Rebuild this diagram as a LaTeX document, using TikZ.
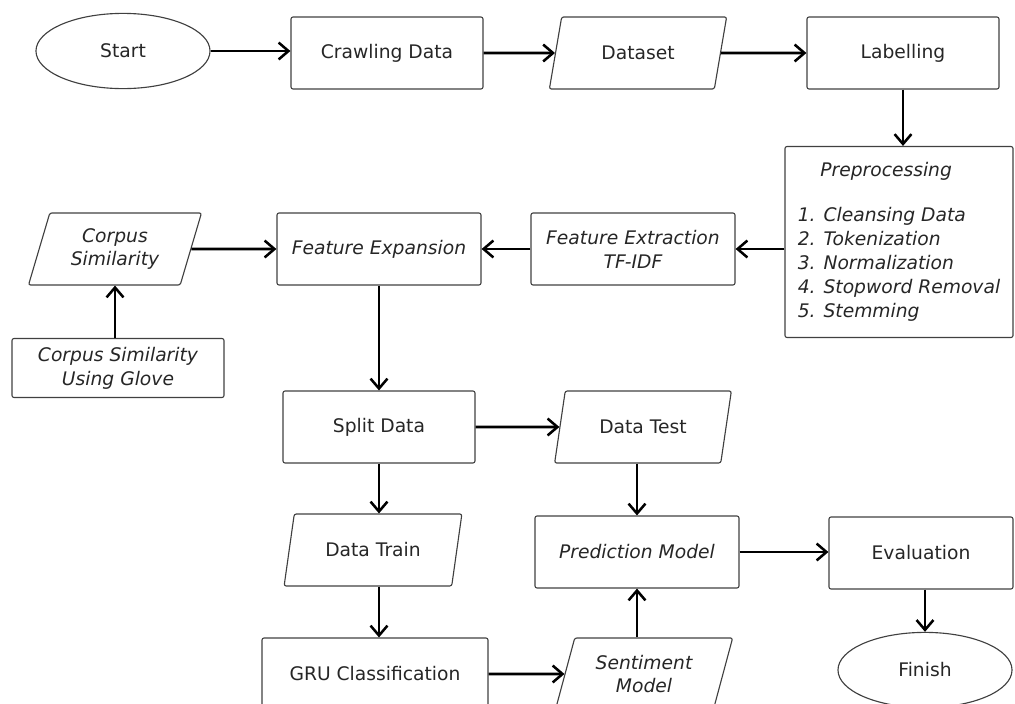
\documentclass[tikz,border=0pt]{standalone}
\usepackage{fontspec}
\setmainfont{DejaVu Sans}
\usetikzlibrary{shapes.geometric,arrows.meta}

\begin{document}
\begin{tikzpicture}[x=0.025cm,y=-0.025cm,
    line join=round,
    font=\fontsize{13.3}{17}\selectfont,
    flow/.style={-{Straight Barb[length=7pt,width=12pt]},line width=1.8pt,black}]
    \tikzstyle{box}=[rectangle,draw=black!75,line width=0.8pt,rounded corners=1.5pt,
        text=black!85,align=center,inner sep=2pt]
    \tikzstyle{process}=[box,minimum width=4.8cm,minimum height=1.8cm]
    \tikzstyle{io}=[box,trapezium,trapezium left angle=72,trapezium right angle=108,
        trapezium stretches,minimum width=4.45cm,minimum height=1.8cm]
    \tikzstyle{terminal}=[box,ellipse,minimum width=4.35cm,minimum height=1.88cm]
    \tikzstyle{note}=[font=\fontsize{13.3}{17}\selectfont\itshape]

    \clip (0,0) rectangle (1015,704);

    % Draw the top row
    \node[terminal] (start) at (123,51) {Start};
    \node[process] (crawl) at (387,53) {Crawling Data};
    \node[io] (dataset) at (638,53) {Dataset};
    \node[process] (label) at (903,53) {Labelling};

    % Draw the preprocessing block
    \node[box,note,align=left,minimum width=5.7cm,minimum height=4.775cm] (prep) at (899,242)
        {\hspace*{16pt}Preprocessing\\[15pt]1. Cleansing Data\\2. Tokenization\\3. Normalization\\4. Stopword Removal\\5. Stemming};

    % Draw the feature nodes
    \node[process,note,minimum width=5.1cm] (featx) at (633,249) {Feature Extraction\\TF-IDF};
    \node[process,note,minimum width=5.1cm] (featexp) at (379,249) {Feature Expansion};
    \node[io,note,minimum width=4.35cm] (corpus) at (115,249) {Corpus\\Similarity};
    \node[process,note,minimum width=5.3cm,minimum height=1.475cm] (glove) at (118,368)
        {Corpus Similarity\\Using Glove};

    % Draw the split and model nodes
    \node[process] (split) at (379,427) {Split Data};
    \node[io] (test) at (643,427) {Data Test};
    \node[io] (train) at (373,550) {Data Train};
    \node[process,minimum width=5.65cm] (gru) at (375,674) {GRU Classification};
    \node[process,note,minimum width=5.1cm] (pred) at (637,552) {Prediction Model};
    \node[io,note] (sent) at (644,674) {Sentiment\\Model};
    \node[process,minimum width=4.6cm] (eval) at (921,553) {Evaluation};
    \node[terminal] (finish) at (925,670) {Finish};

    % Connect the nodes
    \draw[flow] (start.east) -- (start.east -| crawl.west);
    \draw[flow] (crawl.east) -- (dataset.west);
    \draw[flow] (dataset.east) -- (label.west);
    \draw[flow] (label.south) -- (label.south |- prep.north);
    \draw[flow] (featx.east -| prep.west) -- (featx.east);
    \draw[flow] (featx.west) -- (featexp.east);
    \draw[flow] (corpus.east) -- (featexp.west);
    \draw[flow] (corpus.south |- glove.north) -- (corpus.south);
    \draw[flow] (featexp.south) -- (split.north);
    \draw[flow] (split.east) -- (test.west);
    \draw[flow] (split.south) -- (split.south |- train.north);
    \draw[flow] (train.south -| split.south) -- (gru.north -| split.south);
    \draw[flow] (test.south -| pred.north) -- (pred.north);
    \draw[flow] (gru.east) -- (sent.west);
    \draw[flow] (pred.south |- sent.north) -- (pred.south);
    \draw[flow] (pred.east) -- (pred.east -| eval.west);
    \draw[flow] (eval.south -| finish.north) -- (finish.north);
\end{tikzpicture}
\end{document}
